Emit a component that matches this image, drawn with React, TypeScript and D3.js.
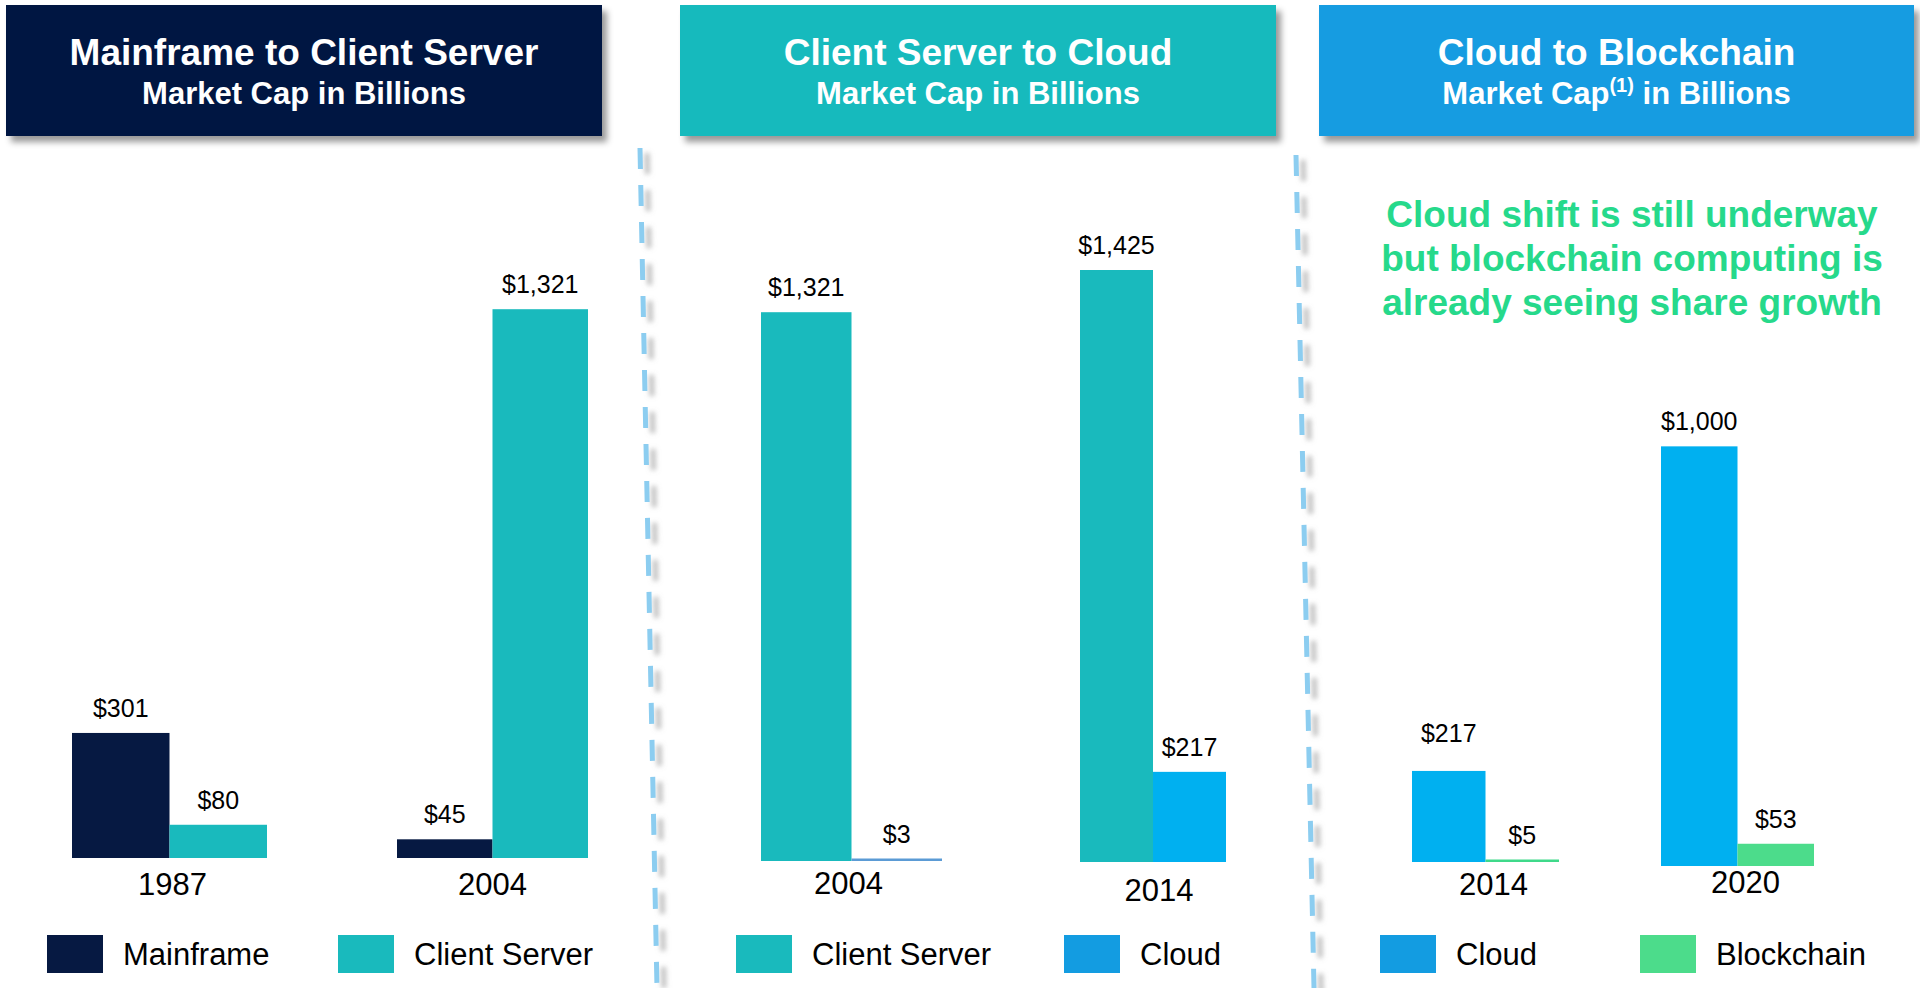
import React from "react";
import * as d3 from "d3";

const width = 1920;
const height = 988;
const font = "'Liberation Sans', Arial, sans-serif";

// data
const panelTitles = ["Mainframe to Client Server", "Client Server to Cloud", "Cloud to Blockchain"];
const panelSubtitles = ["Market Cap", "Market Cap", "Market Cap"];
const subtitleNotes = ["", "", "(1)"];
const panelSeries = [
  ["Mainframe", "Client Server"],
  ["Client Server", "Cloud"],
  ["Cloud", "Blockchain"],
];
const groupYears = ["1987", "2004", "2004", "2014", "2014", "2020"];
const groupPanel = [0, 0, 1, 1, 2, 2];
const firstValues = [301, 45, 1321, 1425, 217, 1000];
const secondValues = [80, 1321, 3, 217, 5, 53];
const noteLines = [
  "Cloud shift is still underway",
  "but blockchain computing is",
  "already seeing share growth",
];

// colours
const barColor = {
  Mainframe: "#061942",
  "Client Server": "#19babd",
  Cloud: "#00b0f0",
  Blockchain: "#4cdc8b",
};
const legendColor = {
  Mainframe: "#061942",
  "Client Server": "#19babd",
  Cloud: "#139ce1",
  Blockchain: "#4cdc8b",
};
const thinColor = { Cloud: "#5b9bd5", Blockchain: "#3fd98a" };
const headerColors = ["#061942", "#19babd", "#139ce1"];

// layout (pasted slide, every group sits a little differently)
const panelBoxes = [
  { x: 6, w: 596, legendX: [47, 338], barMax: 592 },
  { x: 680, w: 596, legendX: [736, 1064], barMax: 592 },
  { x: 1319, w: 595, legendX: [1380, 1640], barMax: 598 },
];
const groupBoxes = [
  { x0: 72, x1: 267, base: 858, lx: 3, ly: 37, lift: [0, 0] },
  { x0: 397, x1: 588, base: 858, lx: 0, ly: 37, lift: [0, 0] },
  { x0: 761, x1: 942, base: 861, lx: -3, ly: 33, lift: [0, 0] },
  { x0: 1080, x1: 1226, base: 862, lx: 6, ly: 39, lift: [0, 0] },
  { x0: 1412, x1: 1559, base: 862, lx: 8, ly: 33, lift: [13, 0] },
  { x0: 1661, x1: 1814, base: 866, lx: 8, ly: 27, lift: [0, 0] },
];
const dividers = [
  { x1: 640, y1: 148, x2: 657, y2: 988 },
  { x1: 1296, y1: 155, x2: 1314, y2: 988 },
];

const fmt = (v: number) => "$" + d3.format(",")(v);

export default function App() {
  return (
    <svg
      width={width}
      height={height}
      style={{ position: "absolute", left: 0, top: 0, background: "#fff" }}
      fontFamily={font}
    >
      <defs>
        <filter id="boxShadow" x="-5%" y="-10%" width="115%" height="135%">
          <feDropShadow dx="5" dy="6" stdDeviation="3" floodColor="#000" floodOpacity="0.4" />
        </filter>
        <filter id="dashShadow" filterUnits="userSpaceOnUse" x="600" y="100" width="800" height="900">
          <feDropShadow dx="7" dy="5" stdDeviation="2.5" floodColor="#888" floodOpacity="0.55" />
        </filter>
      </defs>

      {/* dashed dividers */}
      {dividers.map((d, i) => (
        <line
          key={"div" + i}
          x1={d.x1}
          y1={d.y1}
          x2={d.x2}
          y2={d.y2}
          stroke="#8ccdf0"
          strokeWidth={5}
          strokeDasharray="21 16"
          filter="url(#dashShadow)"
        />
      ))}

      {/* header boxes */}
      {panelBoxes.map((p, i) => {
        const cx = p.x + p.w / 2;
        return (
          <g key={"hdr" + i}>
            <rect x={p.x} y={5} width={p.w} height={131} fill={headerColors[i]} filter="url(#boxShadow)" />
            <text x={cx} y={65} textAnchor="middle" fill="#fff" fontSize={37} fontWeight="bold">
              {panelTitles[i]}
            </text>
            <text x={cx} y={104} textAnchor="middle" fill="#fff" fontSize={31} fontWeight="bold">
              {panelSubtitles[i]}
              {subtitleNotes[i] && (
                <tspan fontSize={20} dy={-12}>
                  {subtitleNotes[i]}
                </tspan>
              )}
              <tspan dy={subtitleNotes[i] ? 12 : 0}>{" in Billions"}</tspan>
            </text>
          </g>
        );
      })}

      {/* bar groups */}
      {groupYears.map((year, gi) => {
        const g = groupBoxes[gi];
        const pi = groupPanel[gi];
        const keys = panelSeries[pi];
        const vals = [firstValues[gi], secondValues[gi]];
        const x = d3.scaleBand().domain(keys).range([g.x0, g.x1]).padding(0);
        const h = d3.scaleLinear().domain([0, 1425]).range([0, panelBoxes[pi].barMax]);
        return (
          <g key={"grp" + gi}>
            {keys.map((k, si) => {
              const bh = h(vals[si]);
              const thin = bh < 3;
              const top = g.base - Math.max(bh, 2.5);
              return (
                <g key={k}>
                  <rect
                    x={x(k)}
                    y={top}
                    width={x.bandwidth()}
                    height={Math.max(bh, 2.5)}
                    fill={thin ? thinColor[k] : barColor[k]}
                  />
                  <text
                    x={(x(k) as number) + x.bandwidth() / 2}
                    y={top - 16 - g.lift[si]}
                    textAnchor="middle"
                    fontSize={25}
                    fill="#000"
                  >
                    {fmt(vals[si])}
                  </text>
                </g>
              );
            })}
            <text
              x={(g.x0 + g.x1) / 2 + g.lx}
              y={g.base + g.ly}
              textAnchor="middle"
              fontSize={31}
              fill="#000"
            >
              {year}
            </text>
          </g>
        );
      })}

      {/* legends */}
      {panelBoxes.map((p, i) =>
        panelSeries[i].map((k, si) => (
          <g key={"lg" + i + si}>
            <rect x={p.legendX[si]} y={935} width={56} height={38} fill={legendColor[k]} />
            <text x={p.legendX[si] + 76} y={965} fontSize={31} fill="#000">
              {k}
            </text>
          </g>
        ))
      )}

      {/* annotation */}
      <text textAnchor="middle" fontSize={37} fontWeight="bold" fill="#26d98b">
        {noteLines.map((t, i) => (
          <tspan key={i} x={1632} y={227 + i * 44}>
            {t}
          </tspan>
        ))}
      </text>
    </svg>
  );
}
